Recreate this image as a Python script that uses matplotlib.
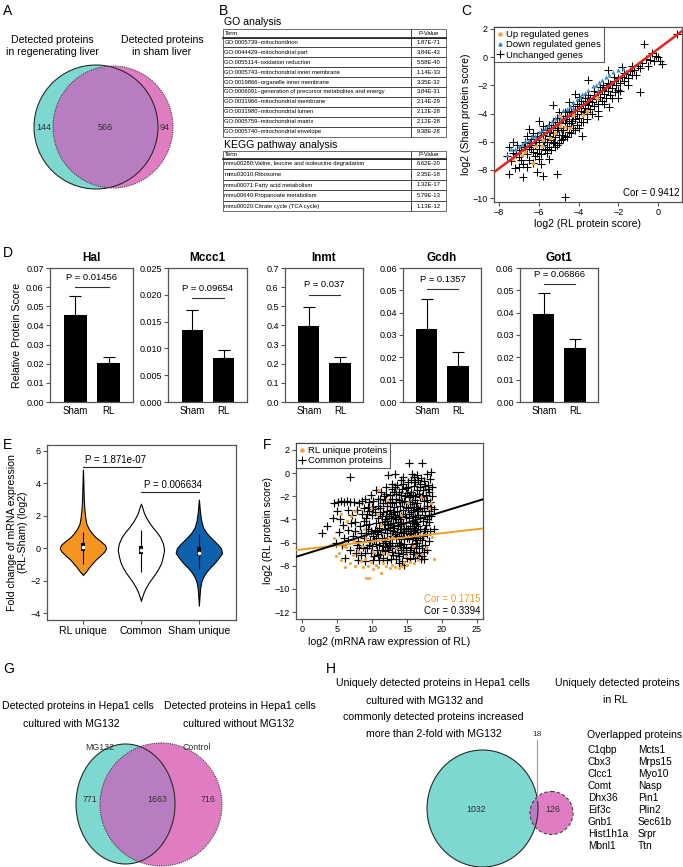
import numpy as np
import matplotlib
matplotlib.use("Agg")
import matplotlib.pyplot as plt
from matplotlib.patches import Ellipse, Rectangle
from matplotlib.lines import Line2D
from matplotlib.ticker import FormatStrFormatter

plt.rcParams['font.family'] = ['Liberation Sans', 'DejaVu Sans']
W, H = 683, 867

# ---------------- data ----------------
venn_a = ['144', '566', '94']
venn_g = ['771', '1663', '716']
venn_h = ['1032', '18', '126']

go_terms = ['GO:0005739~mitochondrion', 'GO:0044429~mitochondrial part',
            'GO:0055114~oxidation reduction', 'GO:0005743~mitochondrial inner membrane',
            'GO:0019866~organelle inner membrane',
            'GO:0006091~generation of precursor metabolites and energy',
            'GO:0031966~mitochondrial membrane', 'GO:0031980~mitochondrial lumen',
            'GO:0005759~mitochondrial matrix', 'GO:0005740~mitochondrial envelope']
go_pvals = ['1.87E-71', '3.84E-43', '5.58E-40', '1.14E-33', '3.35E-32',
            '3.84E-31', '2.14E-29', '2.12E-28', '2.12E-28', '9.38E-28']
kegg_terms = ['mmu00280:Valine, leucine and isoleucine degradation', 'mmu03010:Ribosome',
              'mmu00071:Fatty acid metabolism', 'mmu00640:Propanoate metabolism',
              'mmu00020:Citrate cycle (TCA cycle)']
kegg_pvals = ['6.62E-20', '2.35E-18', '1.32E-17', '5.79E-13', '1.13E-12']

# panel C
c_fit = (1.06, 0.58)
c_unchanged = [(-7.6,-7.0),(-7.5,-6.4),(-7.4,-7.4),(-7.3,-6.8),(-7.2,-7.9),(-7.1,-6.2),(-7.0,-7.1),
    (-6.9,-6.6),(-6.8,-7.6),(-6.7,-6.0),(-6.6,-6.9),(-6.5,-6.4),(-6.5,-7.3),(-6.4,-5.8),(-6.3,-6.7),
    (-6.2,-6.2),(-6.2,-7.0),(-6.1,-5.6),(-6.0,-6.5),(-6.0,-5.9),(-5.9,-6.9),(-5.9,-7.6),(-5.8,-5.5),
    (-5.8,-6.2),(-5.7,-5.8),(-5.7,-6.6),(-5.6,-5.2),(-5.6,-6.0),(-5.5,-5.6),(-5.5,-6.4),(-5.4,-5.0),
    (-5.4,-5.9),(-5.3,-5.4),(-5.3,-6.1),(-5.2,-4.8),(-5.2,-5.7),(-5.1,-5.2),(-5.1,-6.2),(-5.0,-4.6),
    (-5.0,-5.5),(-4.9,-5.0),(-4.9,-5.9),(-4.8,-4.4),(-4.8,-5.2),(-4.7,-4.7),(-4.7,-5.6),(-4.6,-4.2),
    (-4.6,-4.9),(-4.5,-4.5),(-4.5,-5.3),(-4.4,-3.9),(-4.4,-4.7),(-4.3,-4.2),(-4.3,-5.0),(-4.2,-3.7),
    (-4.2,-4.4),(-4.1,-4.0),(-4.1,-4.8),(-4.0,-3.5),(-4.0,-4.3),(-3.9,-3.8),(-3.9,-4.6),(-3.8,-3.3),
    (-3.8,-4.0),(-3.7,-3.6),(-3.6,-3.1),(-3.6,-3.9),(-3.5,-3.4),(-3.4,-2.9),(-3.4,-3.7),(-3.3,-3.2),
    (-3.2,-2.7),(-3.2,-3.5),(-3.1,-3.0),(-3.0,-2.5),(-3.0,-3.3),(-2.9,-2.8),(-2.8,-2.3),(-2.8,-3.1),
    (-2.7,-2.6),(-2.6,-2.1),(-2.6,-2.9),(-2.5,-2.4),(-2.4,-1.9),(-2.4,-2.7),(-2.3,-2.2),(-2.2,-1.7),
    (-2.1,-2.0),(-2.0,-1.5),(-2.0,-2.3),(-1.9,-1.8),(-1.8,-1.4),(-1.7,-1.7),(-1.6,-1.2),(-1.5,-1.5),
    (-1.4,-1.0),(-1.3,-1.3),(-1.2,-0.9),(-1.0,-0.6),(-0.8,-0.4),(-0.6,-0.1),(-0.4,-0.2),(-0.2,-0.3),
    (0.0,0.0),(0.1,-0.3),(-0.3,0.3),(-7.48,-8.26),(-6.81,-8.5),(-6.08,-8.14),(-5.8,-8.4),(-5.07,-8.3),
    (-4.68,-9.92),(-3.85,-5.61),(-2.46,-3.52),(-0.9,-2.45),(0.96,1.62),(-0.69,0.91),(-2.5,-0.9),
    (-3.5,-1.6),(-4.2,-2.6),(-5.3,-3.4),(-6.0,-4.5),(-6.5,-5.1),(-3.0,-4.2),(-2.0,-2.9),(-5.5,-7.2),
    (-6.6,-7.8),(-7.0,-7.8),(-4.5,-3.2),(-5.0,-3.9),(-4.0,-2.8),(-1.8,-0.7),(-6.3,-7.5),(-5.6,-6.8),
    (-7.3,-6.0),(-7.0,-6.6),(-6.9,-7.3),(-6.7,-6.5),(-6.6,-5.6),(-6.4,-6.5),(-6.3,-5.4),(-6.1,-6.8),
    (-6.0,-7.2),(-5.9,-5.3),(-5.8,-4.9),(-5.6,-6.5),(-5.5,-4.8),(-5.4,-6.6),(-5.3,-4.6),(-5.2,-6.4),
    (-5.1,-4.3),(-5.0,-6.1),(-4.9,-4.2),(-4.8,-5.8),(-4.7,-3.9),(-4.6,-5.7),(-4.5,-3.8),(-4.4,-5.4),
    (-4.3,-3.5),(-4.2,-5.2),(-4.1,-3.3),(-4.0,-5.0),(-3.9,-3.1),(-3.8,-4.6),(-3.7,-2.9),(-3.6,-4.4),
    (-3.5,-2.7),(-3.3,-4.0),(-3.2,-2.4),(-3.0,-3.8),(-2.9,-2.1),(-2.7,-3.3),(-2.5,-1.8),(-2.3,-2.9),
    (-2.2,-1.4),(-1.9,-2.4),(-1.7,-1.1),(-1.5,-2.0),(-1.3,-0.6),(-1.1,-1.3),(-0.9,-0.8),(-0.5,-0.6),
    (-0.1,0.1),(0.2,-0.5),(-5.75,-6.0),(-5.45,-5.3),(-5.05,-5.0),(-4.65,-4.4),(-4.35,-4.5),
    (-4.85,-5.5),(-5.25,-6.0),(-6.15,-6.0),(-6.45,-6.1),(-6.75,-6.4),(-7.15,-6.9),(-3.45,-3.1),
    (-3.75,-3.9),(-2.75,-2.0),(-2.15,-2.5)]
c_down = [(-7.58,-6.96),(-7.4,-6.5),(-7.2,-6.55),(-7.0,-6.3),(-6.86,-6.18),(-6.7,-5.95),(-6.5,-5.85),
    (-6.35,-5.6),(-6.19,-5.61),(-6.0,-5.3),(-5.85,-5.15),(-5.7,-5.0),(-5.52,-4.83),(-5.35,-4.55),
    (-5.19,-4.35),(-5.0,-4.1),(-4.9,-4.3),(-4.77,-3.76),(-4.6,-3.7),(-4.45,-3.45),(-4.27,-3.17),
    (-4.1,-3.0),(-3.95,-2.85),(-3.85,-2.62),(-3.7,-2.55),(-3.5,-2.3),(-3.26,-2.05),(-3.1,-1.95),
    (-2.95,-1.75),(-2.84,-1.63),(-2.6,-1.4),(-2.45,-1.25),(-2.26,-1.04),(-2.0,-0.9),(-1.75,-0.8),
    (-6.0,-5.7),(-5.5,-5.2),(-4.3,-3.6),(-3.0,-2.3),(-6.6,-6.2)]
c_up = [(-6.86,-6.96),(-6.28,-7.48),(-6.14,-6.30),(-5.86,-6.30),(-5.44,-5.77),(-4.94,-4.87),
    (-4.68,-4.94),(-4.94,-4.19),(-4.27,-4.12),(-3.80,-4.12),(-3.09,-2.93),(-6.70,-6.70),
    (-5.78,-5.90),(-4.43,-5.06),(-7.3,-7.2),(-5.2,-5.4),(-3.6,-3.8)]

# panel D
genes = ['Hal', 'Mccc1', 'Inmt', 'Gcdh', 'Got1']
groups = ['Sham', 'RL']
bar_mean = [[0.0453, 0.0205], [0.0134, 0.0082], [0.398, 0.205], [0.0325, 0.0161], [0.0392, 0.0244]]
bar_err = [[0.0100, 0.0030], [0.0038, 0.0015], [0.100, 0.030], [0.0137, 0.0061], [0.0096, 0.0039]]
bar_pvals = ['0.01456', '0.09654', '0.037', '0.1357', '0.06866']

# panel E: violin outlines (y, half width)
vio_labels = ['RL unique', 'Common', 'Sham unique']
vio_y = [[-1.65,-1.45,-1.2,-0.95,-0.7,-0.45,-0.2,0.0,0.2,0.45,0.7,0.95,1.2,1.5,1.9,2.4,3.0,3.6,4.2,4.85],
         [-3.25,-3.0,-2.7,-2.4,-2.1,-1.8,-1.5,-1.2,-0.9,-0.5,-0.1,0.3,0.7,1.0,1.3,1.6,1.9,2.2,2.5,2.75],
         [-3.55,-3.0,-2.5,-2.1,-1.8,-1.5,-1.2,-0.95,-0.65,-0.3,0.0,0.25,0.5,0.75,1.0,1.3,1.7,2.2,2.6,3.0]]
vio_hw = [[0.0,0.05,0.1,0.16,0.22,0.3,0.37,0.4,0.38,0.3,0.21,0.15,0.1,0.06,0.04,0.025,0.015,0.01,0.006,0.0],
          [0.0,0.02,0.05,0.09,0.14,0.2,0.26,0.31,0.35,0.38,0.4,0.38,0.33,0.27,0.2,0.14,0.09,0.05,0.025,0.0],
          [0.0,0.01,0.02,0.04,0.07,0.12,0.19,0.26,0.33,0.4,0.38,0.32,0.25,0.18,0.12,0.07,0.04,0.02,0.01,0.0]]
vio_box = [(-0.2, 0.3), (-0.35, 0.15), (-0.5, 0.05)]
vio_whisker = [(-1.0, 1.0), (-1.45, 1.15), (-1.3, 0.9)]
vio_median = [0.05, -0.1, -0.27]

# panel F
f_fit_common = (0.186, -7.07)
f_fit_unique = (0.070, -6.59)
f_common = [(2.9,-5.2),(3.6,-4.6),(4.4,-3.9),(4.6,-2.6),(5.0,-3.3),(5.1,-2.5),(5.6,-2.4),(6.0,-2.5),
    (6.4,-2.4),(6.9,-2.5),(7.4,-2.5),(8.1,-2.6),(6.8,-0.3),(5.4,-4.0),(5.8,-4.5),(5.3,-5.1),(6.0,-5.6),
    (6.6,-4.9),(5.7,-6.2),(6.2,-7.3),(6.9,-6.6),(7.3,-5.4),(7.6,-4.2),(7.2,-3.6),(7.9,-3.2),(8.3,-4.6),
    (8.0,-5.9),(7.7,-6.9),(8.4,-7.1),(6.5,-3.2),(4.9,-6.0),(8.6,-3.5),
    (9.0,-2.2),(9.4,-2.9),(9.8,-1.9),(10.2,-2.4),(10.6,-1.5),(10.9,-2.8),(9.1,-3.9),(9.6,-4.4),
    (10.0,-3.6),(10.4,-4.9),(10.8,-3.9),(9.2,-5.2),(9.7,-5.8),(10.1,-5.4),(10.5,-6.1),(10.9,-5.3),
    (9.3,-6.5),(9.9,-6.9),(10.3,-7.2),(10.7,-6.6),(11.0,-7.5),(8.8,-4.1),(8.9,-5.6),(9.5,-3.3),
    (10.2,-3.1),(10.6,-4.3),(11.0,-4.7),(11.0,-6.2),(9.0,-6.9),(10.0,-6.3),(10.5,-5.6),(9.4,-4.8),
    (11.3,-1.6),(11.8,-2.3),(12.3,-0.2),(12.0,-1.2),(12.6,-1.9),(12.9,-0.9),(11.2,-3.0),(11.6,-3.4),
    (12.1,-2.8),(12.5,-3.2),(12.9,-2.6),(11.4,-4.2),(11.9,-4.0),(12.3,-4.5),(12.7,-3.9),(13.0,-4.3),
    (11.3,-5.1),(11.7,-5.6),(12.2,-5.2),(12.6,-5.7),(13.0,-5.0),(11.5,-6.3),(11.9,-6.7),(12.4,-6.2),
    (12.8,-6.8),(11.2,-7.0),(11.6,-7.3),(12.2,-7.5),(12.7,-7.4),(13.0,-7.1),(11.8,-4.8),(12.5,-4.9),
    (12.0,-5.9),(12.9,-6.0),(11.4,-3.7),(12.4,-3.7),(13.0,-3.4),(11.9,-6.0),(12.1,-3.3),(12.8,-2.2),
    (11.5,-2.6),(12.3,-6.6),
    (13.3,-0.1),(13.6,-1.0),(14.1,-0.6),(14.5,-0.3),(14.8,-1.3),(13.4,-1.8),(13.8,-2.3),(14.2,-1.9),
    (14.6,-2.4),(15.0,-1.7),(13.2,-2.9),(13.6,-3.3),(14.0,-2.8),(14.4,-3.2),(14.9,-2.9),(13.3,-3.8),
    (13.7,-4.2),(14.1,-3.7),(14.5,-4.3),(14.9,-3.8),(13.2,-4.7),(13.6,-5.1),(14.0,-4.8),(14.4,-5.2),
    (14.8,-4.7),(13.4,-5.6),(13.8,-6.0),(14.2,-5.7),(14.6,-6.1),(15.0,-5.6),(13.3,-6.5),(13.7,-6.9),
    (14.1,-6.6),(14.5,-7.0),(14.9,-6.5),(13.5,-7.4),(14.3,-7.6),(15.0,-7.3),(14.0,-4.0),(13.5,-2.5),
    (14.7,-3.5),(13.9,-5.4),(14.8,-5.0),(13.3,-1.2),(14.3,-1.4),(14.6,-7.9),(13.8,-7.8),
    (15.3,0.9),(15.6,-0.6),(16.0,-0.3),(16.4,-0.2),(16.8,-0.9),(15.2,-1.2),(15.6,-1.6),(16.0,-1.1),
    (16.4,-1.5),(16.9,-1.2),(15.3,-2.1),(15.7,-2.5),(16.1,-2.0),(16.5,-2.6),(16.9,-2.1),(15.2,-3.0),
    (15.6,-3.4),(16.0,-2.9),(16.4,-3.3),(16.8,-3.0),(15.3,-3.9),(15.7,-4.3),(16.1,-3.8),(16.5,-4.2),
    (16.9,-3.9),(15.2,-4.8),(15.6,-5.2),(16.0,-4.7),(16.4,-5.1),(16.8,-4.8),(15.3,-5.7),(15.7,-6.1),
    (16.1,-5.6),(16.5,-6.0),(16.9,-5.6),(15.4,-6.6),(15.8,-7.0),(16.3,-6.5),(16.7,-6.9),(15.5,-7.4),
    (16.2,-7.3),(17.0,-7.4),(15.9,-3.7),(16.6,-3.6),(15.5,-4.6),(16.3,-4.4),(15.4,-2.7),(16.2,-2.3),
    (16.7,-1.8),(15.8,-5.5),(16.6,-5.4),
    (17.2,0.9),(17.8,-0.1),(18.4,0.1),(17.5,-0.7),(18.0,-1.0),(17.3,-1.5),(17.7,-1.9),(18.2,-1.6),
    (18.6,-2.0),(17.4,-2.4),(17.8,-2.8),(18.3,-2.5),(17.2,-3.3),(17.6,-3.6),(18.1,-3.3),(18.5,-3.7),
    (17.3,-4.1),(17.7,-4.5),(18.2,-4.2),(17.4,-5.0),(17.9,-5.3),(18.3,-5.0),(17.2,-5.8),(17.6,-6.2),
    (18.1,-5.9),(17.4,-6.8),(17.9,-6.6),(17.1,-7.2),(18.8,-4.8),(18.9,-3.1),(17.5,-7.4),
    (9.5,-2.5),(10.0,-2.9),(10.4,-3.4),(10.8,-2.2),(9.2,-4.5),(9.8,-5.0),(10.3,-5.8),(10.7,-5.0),
    (9.6,-6.2),(10.1,-7.5),(10.8,-7.1),(9.3,-3.5),(11.1,-3.5),(11.1,-2.2),(11.4,-5.6),(11.7,-4.4),
    (12.0,-3.7),(12.2,-4.1),(12.6,-4.4),(12.7,-3.5),(12.9,-5.4),(11.6,-6.0),(12.1,-6.4),(12.6,-6.3),
    (11.4,-6.6),(12.5,-2.5),(12.0,-1.8),(11.7,-2.0),(12.8,-1.4),(13.1,-1.6),(13.4,-2.2),(13.2,-3.4),
    (13.5,-4.0),(13.8,-3.6),(14.2,-4.4),(14.6,-4.8),(13.7,-4.6),(13.3,-5.3),(14.2,-5.1),(14.6,-5.5),
    (13.6,-6.3),(14.0,-6.2),(14.4,-6.4),(14.8,-6.8),(13.9,-7.2),(14.3,-2.5),(14.7,-2.0),(13.9,-1.6),
    (14.4,-0.9),(15.1,-0.8),(15.5,-1.9),(15.9,-1.9),(16.3,-2.9),(16.6,-3.1),(15.8,-3.2),(15.3,-3.5),
    (15.9,-4.1),(16.2,-4.9),(16.6,-4.6),(15.4,-5.3),(15.9,-5.0),(16.3,-5.8),(16.7,-6.3),(15.6,-6.4),
    (16.0,-6.8),(16.5,-7.1),(17.1,-6.5),(17.3,-5.4),(17.6,-4.8),(17.9,-4.0),(18.2,-3.7),(17.5,-3.0),
    (17.9,-2.3),(18.4,-2.9),(17.2,-2.0),(18.0,-1.4),(18.6,-1.2),(17.6,-1.1),(18.3,-0.5),(17.0,-0.4),
    (16.6,-0.6),(16.1,-0.8),(15.7,-0.1),(8.5,-2.4),(8.9,-3.0),(8.4,-5.2),(8.7,-6.4),(8.2,-6.5),
    (7.5,-5.0),(7.0,-4.3),(6.6,-5.8),(7.8,-6.2),(9.0,-7.6),(8.0,-7.5)]
f_unique = [(4.0,-6.2),(4.5,-5.6),(4.8,-7.2),(5.3,-6.9),(5.6,-7.5),(6.1,-8.1),(6.3,-6.4),(6.9,-7.8),
    (7.3,-7.1),(7.6,-8.0),(8.0,-6.7),(8.4,-7.6),(8.7,-8.1),(9.0,-7.4),(9.2,-9.1),(9.6,-9.1),(9.4,-8.0),
    (9.8,-7.7),(10.2,-8.3),(10.5,-7.9),(10.9,-8.1),(11.3,-8.6),(11.6,-7.8),(12.0,-8.0),(12.5,-8.2),
    (12.9,-7.9),(13.3,-8.1),(13.8,-8.2),(14.2,-8.0),(14.6,-7.7),(15.0,-7.9),(15.5,-7.7),(16.0,-7.8),
    (16.6,-7.5),(17.2,-7.0),(18.8,-7.4),(18.6,-5.5),(18.5,-2.6),(18.2,-3.0),(17.0,-2.1),(11.0,-1.5),
    (12.2,-2.3),(7.0,-3.7),(6.4,-4.1),(8.8,-4.8),(9.8,-3.0),(10.9,-3.5),(5.6,-3.5),(6.0,-6.3),
    (7.4,-5.9),(7.6,-3.3),(8.6,-6.3),(10.2,-6.8),(11.5,-6.9),(12.3,-7.0),(13.5,-6.5),(14.8,-7.2),
    (16.3,-7.1),(15.9,-6.3),(17.7,-6.5),(12.8,-5.5),(11.3,-4.5),(9.2,-5.6),(14.1,-3.6),(16.4,-4.0),
    (15.2,-2.6)]

overlap_genes_1 = ['C1qbp', 'Cbx3', 'Clcc1', 'Comt', 'Dhx36', 'Eif3c', 'Gnb1', 'Hist1h1a', 'Mbnl1']
overlap_genes_2 = ['Mcts1', 'Mrps15', 'Myo10', 'Nasp', 'Pin1', 'Plin2', 'Sec61b', 'Srpr', 'Ttn']

# ---------------- figure ----------------
TEAL, PINK, PURPLE = '#7dd8cf', '#e07cc2', '#b87dc0'
ORANGE, BLUE = '#f5941e', '#0d62ae'
SP = '#555555'

fig = plt.figure(figsize=(W / 100, H / 100), dpi=100)
ov = fig.add_axes([0, 0, 1, 1])
ov.set_xlim(0, W)
ov.set_ylim(H, 0)
ov.axis('off')


def px_axes(l, t, r, b):
    ax = fig.add_axes([l / W, 1 - b / H, (r - l) / W, (b - t) / H])
    for s in ax.spines.values():
        s.set_color(SP)
        s.set_linewidth(0.9)
    ax.tick_params(labelsize=6.5, length=3, width=0.8, color=SP, pad=1.5)
    return ax


def venn(cl, rl, cr, rr, dotted='dotted'):
    e1 = Ellipse(cl, 2 * rl[0], 2 * rl[1], fc=TEAL, ec='none')
    ov.add_patch(e1)
    ov.add_patch(Ellipse(cr, 2 * rr[0], 2 * rr[1], fc=PINK, ec='none'))
    mid = Ellipse(cr, 2 * rr[0], 2 * rr[1], fc=PURPLE, ec='none')
    ov.add_patch(mid)
    mid.set_clip_path(e1)
    ov.add_patch(Ellipse(cl, 2 * rl[0], 2 * rl[1], fill=False, ec='#2a2a2a', lw=0.8))
    ls = (0, (1, 1)) if dotted == 'dotted' else (0, (3, 2))
    ov.add_patch(Ellipse(cr, 2 * rr[0], 2 * rr[1], fill=False, ec='#444', lw=0.8, ls=ls))


# panel letters
for lab, x, y in [('A', 3, 4), ('B', 219, 4), ('C', 461, 4), ('D', 3, 246),
                  ('E', 3, 438), ('F', 263, 438), ('G', 3, 662), ('H', 326, 662)]:
    ov.text(x, y, lab, fontsize=10, ha='left', va='top')

# ---- A ----
ov.text(52, 46, 'Detected proteins\nin regenerating liver', ha='center', va='center', fontsize=7.6, linespacing=1.15)
ov.text(162, 46, 'Detected proteins\nin sham liver', ha='center', va='center', fontsize=7.6, linespacing=1.15)
venn((96, 127), (62, 62), (113, 127), (60, 61))
for txt, x in zip(venn_a, [44, 105, 165]):
    ov.text(x, 128, txt, ha='center', va='center', fontsize=6.5, color='#333')

# ---- B ----
ov.text(224, 22, 'GO analysis', fontsize=7.6, va='center')
ov.text(224, 145, 'KEGG pathway analysis', fontsize=7.6, va='center')


def draw_table(top, header_h, row_h, terms, pvals):
    left, sep, right = 223, 411, 446
    rows = [('Term', 'P-Value')] + list(zip(terms, pvals))
    y = top
    for i, (t, p) in enumerate(rows):
        h = header_h if i == 0 else row_h
        ov.add_patch(Rectangle((left, y), sep - left, h, fill=False, ec='#333', lw=0.5))
        ov.add_patch(Rectangle((sep, y), right - sep, h, fill=False, ec='#333', lw=0.5))
        ov.text(left + 1.5, y + h / 2, t, fontsize=4.2, va='center', ha='left')
        ov.text((sep + right) / 2, y + h / 2, p, fontsize=4.2, va='center', ha='center')
        y += h
    ov.plot([left, right], [top + header_h] * 2, color='#222', lw=1.2)


draw_table(29, 8.5, 9.9, go_terms, go_pvals)
draw_table(151, 7.5, 10.6, kegg_terms, kegg_pvals)

# ---- C ----
ax = px_axes(494, 27, 682, 202)
cu = np.array(c_unchanged)
cd = np.array(c_down)
cp = np.array(c_up)
ax.scatter(cu[:, 0], cu[:, 1], marker='+', s=26, c='black', linewidths=0.75, zorder=2)
ax.scatter(cd[:, 0], cd[:, 1], marker='^', s=9, c='#3b87c9', linewidths=0, zorder=3)
ax.scatter(cp[:, 0], cp[:, 1], marker='o', s=8, c='#f4a546', linewidths=0, zorder=3)
xl = np.array([-8.25, 1.2])
ax.plot(xl, c_fit[0] * xl + c_fit[1], color='#e3231f', lw=1.8, zorder=4)
ax.set_xlim(-8.25, 1.2)
ax.set_ylim(-10.28, 2.14)
ax.set_xticks(np.arange(-8, 1, 2))
ax.set_yticks(np.arange(-10, 3, 2))
ax.set_xlabel('log2 (RL protein score)', fontsize=7.6, labelpad=1)
ax.set_ylabel('log2 (Sham protein score)', fontsize=7.6, labelpad=1)
ax.text(0.985, 0.025, 'Cor = 0.9412', transform=ax.transAxes, ha='right', va='bottom', fontsize=7)
hl = [Line2D([], [], ls='none', marker='o', ms=2.3, color='#f4a546'),
      Line2D([], [], ls='none', marker='^', ms=2.3, color='#3b87c9'),
      Line2D([], [], ls='none', marker='+', ms=6, mew=0.8, color='black')]
lg = ax.legend(hl, ['Up regulated genes', 'Down regulated genes', 'Unchanged genes'],
               loc='upper left', borderaxespad=0, fontsize=6.8, frameon=True, fancybox=False,
               edgecolor='#333', handlelength=0.7, handletextpad=0.3, labelspacing=0.15, borderpad=0.3)
lg.get_frame().set_linewidth(0.8)

# ---- D ----
bar_boxes = [(50, 268, 133, 402), (168, 268, 247, 402), (285, 268, 363, 402),
             (403, 268, 481, 402), (520, 268, 598, 402)]
ymaxs = [0.07, 0.025, 0.7, 0.06, 0.06]
ysteps = [0.01, 0.005, 0.1, 0.01, 0.01]
fmts = ['%.2f', '%.3f', '%.1f', '%.2f', '%.2f']
plines = [0.060, 0.0194, 0.56, 0.0506, 0.0528]
for i, g in enumerate(genes):
    ax = px_axes(*bar_boxes[i])
    ax.bar([0, 1], bar_mean[i], width=0.68, color='black', zorder=2)
    ax.errorbar([0, 1], bar_mean[i], yerr=[[0, 0], bar_err[i]], fmt='none', ecolor='black',
                elinewidth=0.8, capsize=4, capthick=0.8, zorder=1)
    ax.set_xlim(-0.77, 1.74)
    ax.set_ylim(0, ymaxs[i])
    ax.set_yticks(np.arange(0, ymaxs[i] + 1e-9, ysteps[i]))
    ax.yaxis.set_major_formatter(FormatStrFormatter(fmts[i]))
    ax.set_xticks([0, 1])
    ax.set_xticklabels(groups, fontsize=7)
    ax.tick_params(axis='x', length=0, pad=3)
    ax.set_title(g, fontweight='bold', fontsize=8.5, pad=5)
    ax.plot([0, 1], [plines[i]] * 2, color='#333', lw=0.8)
    ax.text(0.5, plines[i] + ymaxs[i] * 0.04, 'P = ' + bar_pvals[i], ha='center', va='bottom', fontsize=6.8)
    if i == 0:
        ax.set_ylabel('Relative Protein Score', fontsize=7.6, labelpad=3)

# ---- E ----
ax = px_axes(47, 445, 236, 620)
for k, col in enumerate([ORANGE, 'white', BLUE]):
    xc = k + 1
    ys = np.array(vio_y[k])
    hw = np.array(vio_hw[k])
    ax.fill_betweenx(ys, xc - hw, xc + hw, facecolor=col, edgecolor='black', lw=0.8, zorder=2)
    ax.vlines(xc, vio_whisker[k][0], vio_whisker[k][1], color='black', lw=0.8, zorder=3)
    ax.add_patch(Rectangle((xc - 0.04, vio_box[k][0]), 0.08, vio_box[k][1] - vio_box[k][0],
                           fc='black', ec='none', zorder=4))
    ax.scatter([xc], [vio_median[k]], s=7, c='white', zorder=5, linewidths=0)
ax.plot([1, 2], [5.0, 5.0], color='#222', lw=0.8)
ax.text(1.56, 5.12, 'P = 1.871e-07', ha='center', va='bottom', fontsize=7)
ax.plot([2, 3], [3.47, 3.47], color='#222', lw=0.8)
ax.text(2.55, 3.6, 'P = 0.006634', ha='center', va='bottom', fontsize=7)
ax.set_xlim(0.38, 3.64)
ax.set_ylim(-4.43, 6.37)
ax.set_yticks([-4, -2, 0, 2, 4, 6])
ax.set_xticks([1, 2, 3])
ax.set_xticklabels(vio_labels, fontsize=7.6)
ax.set_ylabel('Fold change of mRNA expression\n(RL-Sham) (log2)', fontsize=7.6, labelpad=2, linespacing=1.1)

# ---- F ----
ax = px_axes(296, 443, 483, 619)
fc = np.array(f_common)
fu = np.array(f_unique)
ax.scatter(fc[:, 0], fc[:, 1], marker='+', s=32, c='black', linewidths=0.85, zorder=2)
ax.scatter(fu[:, 0], fu[:, 1], marker='o', s=5, c='#f5a33a', linewidths=0, zorder=3)
xl = np.array([-0.86, 25.86])
ax.plot(xl, f_fit_unique[0] * xl + f_fit_unique[1], color='#f39c21', lw=1.4, zorder=4)
ax.plot(xl, f_fit_common[0] * xl + f_fit_common[1], color='black', lw=1.4, zorder=4)
ax.set_xlim(-0.86, 25.86)
ax.set_ylim(-12.6, 2.6)
ax.set_xticks(np.arange(0, 26, 5))
ax.set_yticks(np.arange(-12, 3, 2))
ax.set_xlabel('log2 (mRNA raw expression of RL)', fontsize=7.6, labelpad=2)
ax.set_ylabel('log2 (RL protein score)', fontsize=7.6, labelpad=1)
ax.text(0.985, 0.085, 'Cor = 0.1715', transform=ax.transAxes, ha='right', va='bottom', fontsize=7, color='#f39c21')
ax.text(0.985, 0.015, 'Cor = 0.3394', transform=ax.transAxes, ha='right', va='bottom', fontsize=7)
hl = [Line2D([], [], ls='none', marker='o', ms=2.3, color='#f5a33a'),
      Line2D([], [], ls='none', marker='+', ms=6, mew=0.8, color='black')]
lg = ax.legend(hl, ['RL unique proteins', 'Common proteins'], loc='upper left', borderaxespad=0,
               fontsize=6.8, frameon=True, fancybox=False, edgecolor='#333', handlelength=0.7,
               handletextpad=0.3, labelspacing=0.15, borderpad=0.3)
lg.get_frame().set_linewidth(0.8)

# ---- G ----
ov.text(78, 706, 'Detected proteins in Hepa1 cells', ha='center', va='center', fontsize=7.6)
ov.text(71, 724, 'cultured with MG132', ha='center', va='center', fontsize=7.6)
ov.text(240, 706, 'Detected proteins in Hepa1 cells', ha='center', va='center', fontsize=7.6)
ov.text(239, 724, 'cultured without MG132', ha='center', va='center', fontsize=7.6)
venn((125.5, 804), (49.5, 60), (161, 804.5), (61, 61.5))
ov.text(100, 748, 'MG132', ha='center', va='center', fontsize=6.3, color='#333')
ov.text(197, 748, 'Control', ha='center', va='center', fontsize=6.3, color='#333')
for txt, x in zip(venn_g, [90, 157, 208]):
    ov.text(x, 799, txt, ha='center', va='center', fontsize=6.3, color='#333')

# ---- H ----
for txt, x, y in [('Uniquely detected proteins in Hepa1 cells', 433, 683),
                  ('cultured with MG132 and', 425, 701),
                  ('commonly detected proteins increased', 433, 717),
                  ('more than 2-fold with MG132', 434, 734),
                  ('Uniquely detected proteins', 617, 683),
                  ('in RL', 615, 700)]:
    ov.text(x, y, txt, ha='center', va='center', fontsize=7.6)
venn((482.5, 808.5), (55.5, 58.5), (551.5, 813), (21.5, 21.5), dotted='dashed')
ov.text(476, 810, venn_h[0], ha='center', va='center', fontsize=6.3, color='#333')
ov.text(553, 810, venn_h[2], ha='center', va='center', fontsize=6.3, color='#333')
ov.text(537, 734, venn_h[1], ha='center', va='center', fontsize=6, color='#333')
ov.plot([537, 537], [740, 800], color='#999', lw=0.8)
ov.text(587, 735, 'Overlapped proteins', ha='left', va='center', fontsize=7.6)
for j, (g1, g2) in enumerate(zip(overlap_genes_1, overlap_genes_2)):
    yy = 750 + j * 12
    ov.text(588, yy, g1, ha='left', va='center', fontsize=7.3)
    ov.text(638, yy, g2, ha='left', va='center', fontsize=7.3)

fig.savefig('out.png', dpi=100)
